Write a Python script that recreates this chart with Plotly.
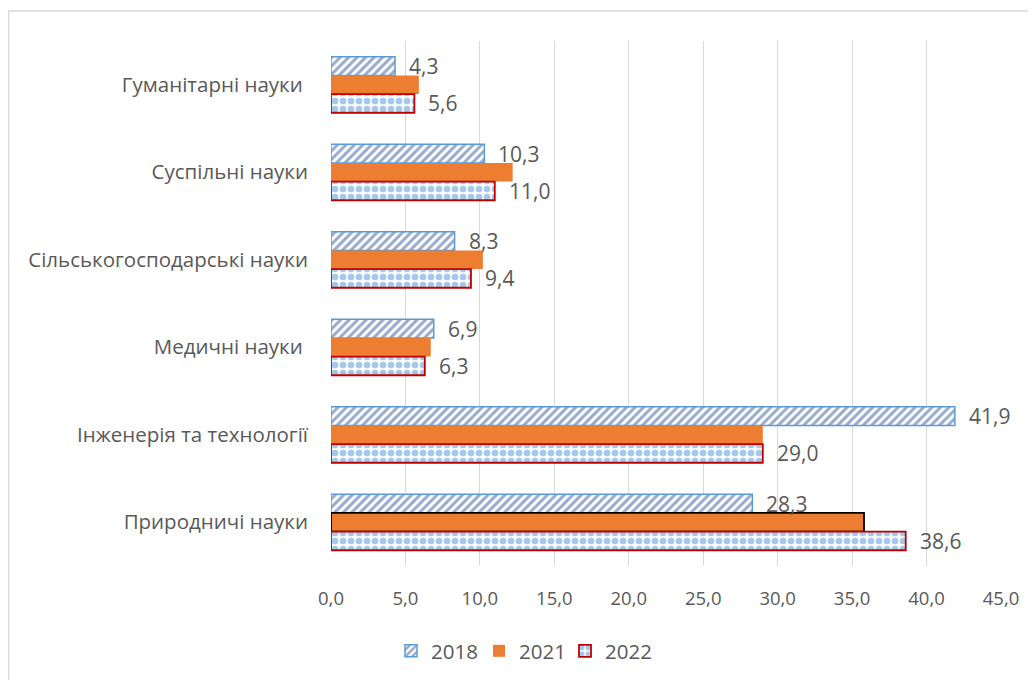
import plotly.graph_objects as go

categories = ["Гуманітарні науки ", "Суспільні науки", "Сільськогосподарські науки",
              "Медичні науки ", "Інженерія та технології", "Природничі науки"]
v2018 = [4.3, 10.3, 8.3, 6.9, 41.9, 28.3]
v2021 = [5.9, 12.2, 10.2, 6.7, 29.0, 35.8]
v2022 = [5.6, 11.0, 9.4, 6.3, 29.0, 38.6]
xticks = [0, 5, 10, 15, 20, 25, 30, 35, 40, 45]

FONT = "Open Sans"
FS_CAT = 20.5
FS_TICK = 18.5
FS_LAB = 21
FS_LEG = 20.5
TXT = "#595959"

fig = go.Figure()
fig.add_trace(go.Bar(
    name="2018", y=categories, x=v2018, orientation="h", legend="legend",
    marker=dict(color="#2F5597",
                line=dict(color="#5B9BD5", width=1.5),
                pattern=dict(shape="/", fgcolor="#2F5597", bgcolor="white",
                             size=6, solidity=0.5)),
))
fig.add_trace(go.Bar(
    name="2021", y=categories, x=v2021, orientation="h", legend="legend2",
    marker=dict(color="#ED7D31",
                line=dict(color=["rgba(0,0,0,0)"] * 5 + ["black"],
                          width=[0] * 5 + [1.8])),
))
fig.add_trace(go.Bar(
    name="2022", y=categories, x=v2022, orientation="h", legend="legend3",
    marker=dict(color="#4A90D9",
                line=dict(color="#C00000", width=1.8),
                pattern=dict(shape=".", fgcolor="#4A90D9", bgcolor="white",
                             size=8, solidity=0.55)),
))

def fmt(v):
    return f"{v:.1f}".replace(".", ",")

group = 0.64
bw = group / 3
annotations = []
for i, (a, c) in enumerate(zip(v2018, v2022)):
    annotations.append(dict(x=a, y=i - bw, xref="x", yref="y", text=fmt(a),
                            showarrow=False, xanchor="left", xshift=12,
                            font=dict(family=FONT, size=FS_LAB, color=TXT)))
    annotations.append(dict(x=c, y=i + bw, xref="x", yref="y", text=fmt(c),
                            showarrow=False, xanchor="left", xshift=12,
                            font=dict(family=FONT, size=FS_LAB, color=TXT)))

# page body has an 8px margin, so the figure is offset by 8px
OFF = 8
W, H = 1036 - OFF, 680 - OFF
L, R, T, B = 331 - OFF, 35, 41 - OFF, 114
pw = W - L - R
ph = H - T - B

def px_x(sx):  # screen x -> paper x
    return (sx - OFF - L) / pw

def px_y(sy):  # screen y -> paper y
    return (H - B - (sy - OFF)) / ph

def leg(sx):
    return dict(orientation="h", x=px_x(sx), xanchor="left",
                y=px_y(651), yanchor="middle",
                font=dict(family=FONT, size=FS_LEG, color=TXT),
                itemwidth=30, bgcolor="rgba(0,0,0,0)")

fig.update_layout(
    width=W, height=H,
    margin=dict(l=L, r=R, t=T, b=B, autoexpand=False),
    paper_bgcolor="white", plot_bgcolor="white",
    barmode="group", bargap=1 - group, bargroupgap=0,
    separators=",.",
    font=dict(family=FONT, size=FS_TICK, color=TXT),
    xaxis=dict(range=[0, 45], tickvals=xticks, tickformat=".1f",
               showgrid=True, gridcolor="#D9D9D9", gridwidth=1.3,
               zeroline=False, showline=False, ticks="",
               ticklabelstandoff=19, automargin=False,
               tickfont=dict(family=FONT, size=FS_TICK, color=TXT)),
    yaxis=dict(type="category", autorange="reversed", showgrid=False,
               showline=False, zeroline=False, ticks="",
               ticklabelstandoff=22, automargin=False,
               tickfont=dict(family=FONT, size=FS_CAT, color=TXT)),
    legend=leg(391),
    legend2=leg(479),
    legend3=leg(565),
    annotations=annotations,
    shapes=[dict(type="rect", xref="paper", yref="paper",
                 x0=px_x(8.6), x1=px_x(1060),
                 y0=px_y(720), y1=px_y(11),
                 line=dict(color="#D9D9D9", width=1.3), layer="below")],
    showlegend=True,
)

fig.write_html("out.html")
